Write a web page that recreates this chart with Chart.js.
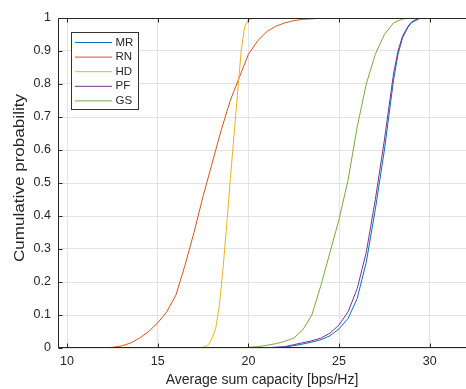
<!DOCTYPE html>
<html>
<head>
<meta charset="utf-8">
<script src="https://cdn.jsdelivr.net/npm/chart.js@4/dist/chart.umd.min.js"></script>
<style>
  html, body { margin:0; padding:0; background:#fff; }
  #cdf { display:block; }
</style>
</head>
<body>
<canvas id="cdf" width="466" height="389"></canvas>
<script>
const xTicks = [10, 15, 20, 25, 30];
const yTicks = [0, 0.1, 0.2, 0.3, 0.4, 0.5, 0.6, 0.7, 0.8, 0.9, 1];
const yTickLabels = ["0", "0.1", "0.2", "0.3", "0.4", "0.5", "0.6", "0.7", "0.8", "0.9", "1"];
const seriesNames = ["MR", "RN", "HD", "PF", "GS"];

const mrX = [9.5, 20.5, 21, 21.5, 22, 22.5, 23, 23.5, 24, 24.5, 25, 25.5, 26, 26.5, 27, 27.5, 28, 28.25, 28.5, 28.8, 29, 29.5, 32];
const mrY = [0, 0, 0.001, 0.002, 0.003, 0.007, 0.012, 0.018, 0.025, 0.037, 0.058, 0.09, 0.15, 0.26, 0.42, 0.6, 0.81, 0.89, 0.94, 0.972, 0.986, 1, 1];

const rnX = [9.5, 12, 12.5, 13, 13.5, 14, 14.5, 15, 15.5, 16, 16.5, 17, 17.5, 18, 18.5, 19, 19.5, 20, 20.5, 21, 21.5, 22, 22.5, 23, 24, 25, 32];
const rnY = [0, 0, 0.002, 0.006, 0.015, 0.03, 0.05, 0.076, 0.11, 0.16, 0.25, 0.35, 0.46, 0.56, 0.66, 0.75, 0.82, 0.89, 0.93, 0.958, 0.975, 0.985, 0.992, 0.996, 0.999, 1, 1];

const hdX = [9.5, 17.3, 17.6, 17.8, 18, 18.2, 18.4, 18.6, 18.8, 19, 19.2, 19.4, 19.6, 19.8, 20, 20.3, 32];
const hdY = [0, 0, 0.004, 0.01, 0.03, 0.06, 0.13, 0.24, 0.37, 0.51, 0.64, 0.77, 0.9, 0.975, 0.995, 1, 1];

const pfX = [9.5, 20.5, 21, 21.5, 22, 22.5, 23, 23.5, 24, 24.5, 25, 25.5, 26, 26.5, 27, 27.5, 28, 28.25, 28.5, 28.8, 29, 29.4, 32];
const pfY = [0, 0, 0.001, 0.002, 0.004, 0.01, 0.016, 0.022, 0.03, 0.045, 0.07, 0.11, 0.18, 0.29, 0.45, 0.63, 0.83, 0.9, 0.945, 0.975, 0.988, 1, 1];

const gsX = [9.5, 19.5, 20, 20.5, 21, 21.5, 22, 22.5, 23, 23.5, 24, 24.5, 25, 25.5, 26, 26.5, 27, 27.5, 28, 28.5, 29, 32];
const gsY = [0, 0, 0.002, 0.004, 0.008, 0.013, 0.02, 0.03, 0.055, 0.1, 0.19, 0.29, 0.39, 0.51, 0.67, 0.8, 0.89, 0.95, 0.985, 0.997, 1, 1];

const colors = ["#0072BD", "#D95319", "#EDB120", "#7E2F8E", "#77AC30"];
const axisColor = "#262626";
const fontFam = "'Liberation Sans', Arial, sans-serif";

const xs = [mrX, rnX, hdX, pfX, gsX];
const ys = [mrY, rnY, hdY, pfY, gsY];

const datasets = seriesNames.map((name, i) => ({
  label: name,
  data: xs[i].map((x, k) => ({ x, y: ys[i][k] })),
  borderColor: colors[i],
  borderWidth: 1,
  pointRadius: 0,
  tension: 0,
  fill: false,
  order: seriesNames.length - i   // later series on top, like matlab
}));

// box, inward ticks, legend, y title
const matlabAxes = {
  id: "matlabAxes",
  afterDatasetsDraw(chart) {
    const c = chart.ctx;
    const a = chart.chartArea;
    const xs_ = chart.scales.x, ys_ = chart.scales.y;
    const L = Math.round(a.left) + 0.5, T = Math.round(a.top) + 0.5, B = Math.round(a.bottom) - 0.5;
    c.save();
    c.strokeStyle = axisColor;
    c.lineWidth = 1;
    c.beginPath();
    c.moveTo(a.right + 1, T); c.lineTo(L, T); c.lineTo(L, B); c.lineTo(a.right + 1, B);
    xTicks.forEach(v => {
      const px = Math.round(xs_.getPixelForValue(v)) + 0.5;
      c.moveTo(px, B); c.lineTo(px, B - 4);
      c.moveTo(px, T); c.lineTo(px, T + 4);
    });
    yTicks.forEach(v => {
      const py = Math.round(ys_.getPixelForValue(v)) + 0.5;
      c.moveTo(L, py); c.lineTo(L + 4, py);
    });
    c.stroke();

    // legend
    const lx = 71.5, ly = 32.5, lw = 67, lh = 77;
    c.fillStyle = "#fff";
    c.fillRect(lx, ly, lw, lh);
    c.strokeStyle = "#333";
    c.strokeRect(lx, ly, lw, lh);
    c.font = "11.5px " + fontFam;
    c.textBaseline = "middle";
    seriesNames.forEach((name, i) => {
      const yy = 42 + i * 14.6;
      c.strokeStyle = colors[i];
      c.beginPath();
      c.moveTo(75, yy + 0.5); c.lineTo(112, yy + 0.5);
      c.stroke();
      c.fillStyle = axisColor;
      c.fillText(name, 115.5, yy + 0.5);
    });

    // y title, stretched a little along its length like the source
    c.translate(20, 178);
    c.rotate(-Math.PI / 2);
    c.font = "14px " + fontFam;
    c.textAlign = "center";
    c.textBaseline = "middle";
    const txt = "Cumulative probability";
    const w = c.measureText(txt).width;
    c.scale(168 / w, 1);
    c.fillStyle = axisColor;
    c.fillText(txt, 0, 0);
    c.restore();
  }
};

new Chart(document.getElementById("cdf").getContext("2d"), {
  type: "line",
  data: { datasets },
  plugins: [matlabAxes],
  options: {
    responsive: false,
    animation: false,
    layout: { padding: { left: 0, top: 18, right: 0, bottom: 0 } },
    plugins: { legend: { display: false }, tooltip: { enabled: false } },
    scales: {
      x: {
        type: "linear",
        min: 9.5, max: 32,
        afterBuildTicks: s => { s.ticks = xTicks.map(v => ({ value: v })); },
        afterFit: s => { s.height = 41; },
        grid: { color: "#e3e3e3", drawTicks: false },
        border: { display: false },
        ticks: { color: axisColor, font: { family: fontFam, size: 12.5 }, padding: 6, maxRotation: 0 },
        title: { display: true, text: "Average sum capacity [bps/Hz]", color: axisColor,
                 font: { family: fontFam, size: 14 }, padding: { top: 1, bottom: 0 } }
      },
      y: {
        type: "linear",
        min: 0, max: 1,
        afterBuildTicks: s => { s.ticks = yTicks.map(v => ({ value: v })); },
        afterFit: s => { s.width = 58; },
        grid: { color: "#e3e3e3", drawTicks: false },
        border: { display: false },
        ticks: { color: axisColor, font: { family: fontFam, size: 12.5 }, padding: 7,
                 callback: (v, i) => yTickLabels[i] }
      }
    }
  }
});
</script>
</body>
</html>
